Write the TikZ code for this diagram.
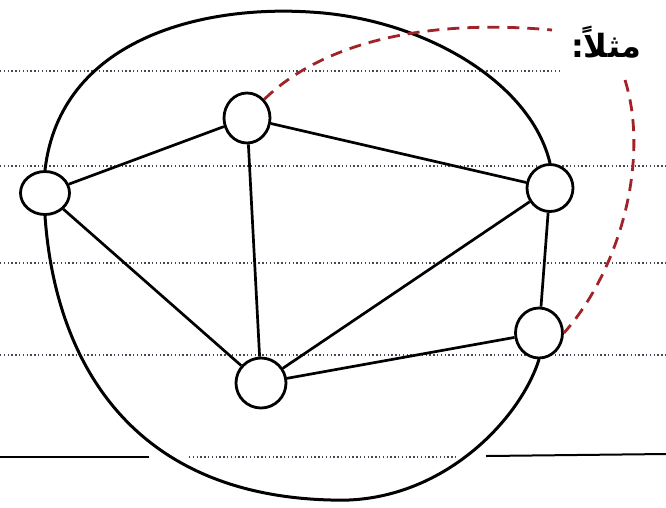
\documentclass[tikz,border=0pt]{standalone}
\usepackage{fontspec}
\usetikzlibrary{shapes.geometric}
\newfontfamily\arabicfont[Script=Arabic]{DejaVu Sans}
\TeXXeTstate=1
\definecolor{inkred}{RGB}{160,35,40}
\definecolor{ruleg}{RGB}{70,70,85}
\tikzset{
  vtx/.style={draw, ellipse, line width=2.8pt, fill=white, inner sep=0pt},
  edge/.style={line width=2.7pt},
  outer/.style={line width=3pt, line cap=round},
  ruled/.style={ruleg, line width=1.5pt, dash pattern=on 1.4pt off 2.4pt},
  ruleline/.style={black, line width=2pt},
  reddash/.style={inkred, line width=2.8pt, dash pattern=on 12pt off 8pt},
}
\begin{document}
\begin{tikzpicture}[x=1pt,y=-1pt]
\useasboundingbox (0,0) rectangle (666,507);
% notebook ruling
\draw[ruled] (0,71) -- (560,71);
\draw[ruled] (0,166) -- (666,166);
\draw[ruled] (0,263) -- (666,263);
\draw[ruled] (0,355) -- (666,355);
\draw[ruled] (189,457) -- (457,457);
\draw[ruleline] (0,457) -- (149,457);
\draw[ruleline] (486,456) -- (666,454);
% vertices
\node[vtx, minimum width=49pt, minimum height=43pt] (L) at (45,193) {};
\node[vtx, minimum width=46pt, minimum height=50pt] (T) at (247,118) {};
\node[vtx, minimum width=46pt, minimum height=47pt] (R) at (550,188) {};
\node[vtx, minimum width=47pt, minimum height=50pt] (Q) at (539,333) {};
\node[vtx, minimum width=50pt, minimum height=50pt] (B) at (261,383) {};
% label
\node (lab) at (606,42) {\arabicfont\bfseries\fontsize{32}{36}\selectfont\beginR مثلاً:\endR};
\coordinate (labin) at (552,30);
\coordinate (labout) at (625,80);
% outer curves
\draw[outer] (L.north) .. controls (60,40) and (200,5) .. (310,12)
  .. controls (420,18) and (530,80) .. (R.north);
\draw[outer] (L.south) .. controls (55,360) and (130,495) .. (331,500)
  .. controls (440,505) and (520,420) .. (Q.south);
% edges
\draw[edge] (L) -- (T);
\draw[edge] (T) -- (R);
\draw[edge] (T) -- (B);
\draw[edge] (L) -- (B);
\draw[edge] (R) -- (B);
\draw[edge] (B) -- (Q);
\draw[edge] (R) -- (Q);
% red dashed route
\draw[reddash] (T.north east) .. controls (320,45) and (420,18) .. (labin);
\draw[reddash] (labout) .. controls (650,160) and (620,270) .. (Q.east);
\end{tikzpicture}
\end{document}
